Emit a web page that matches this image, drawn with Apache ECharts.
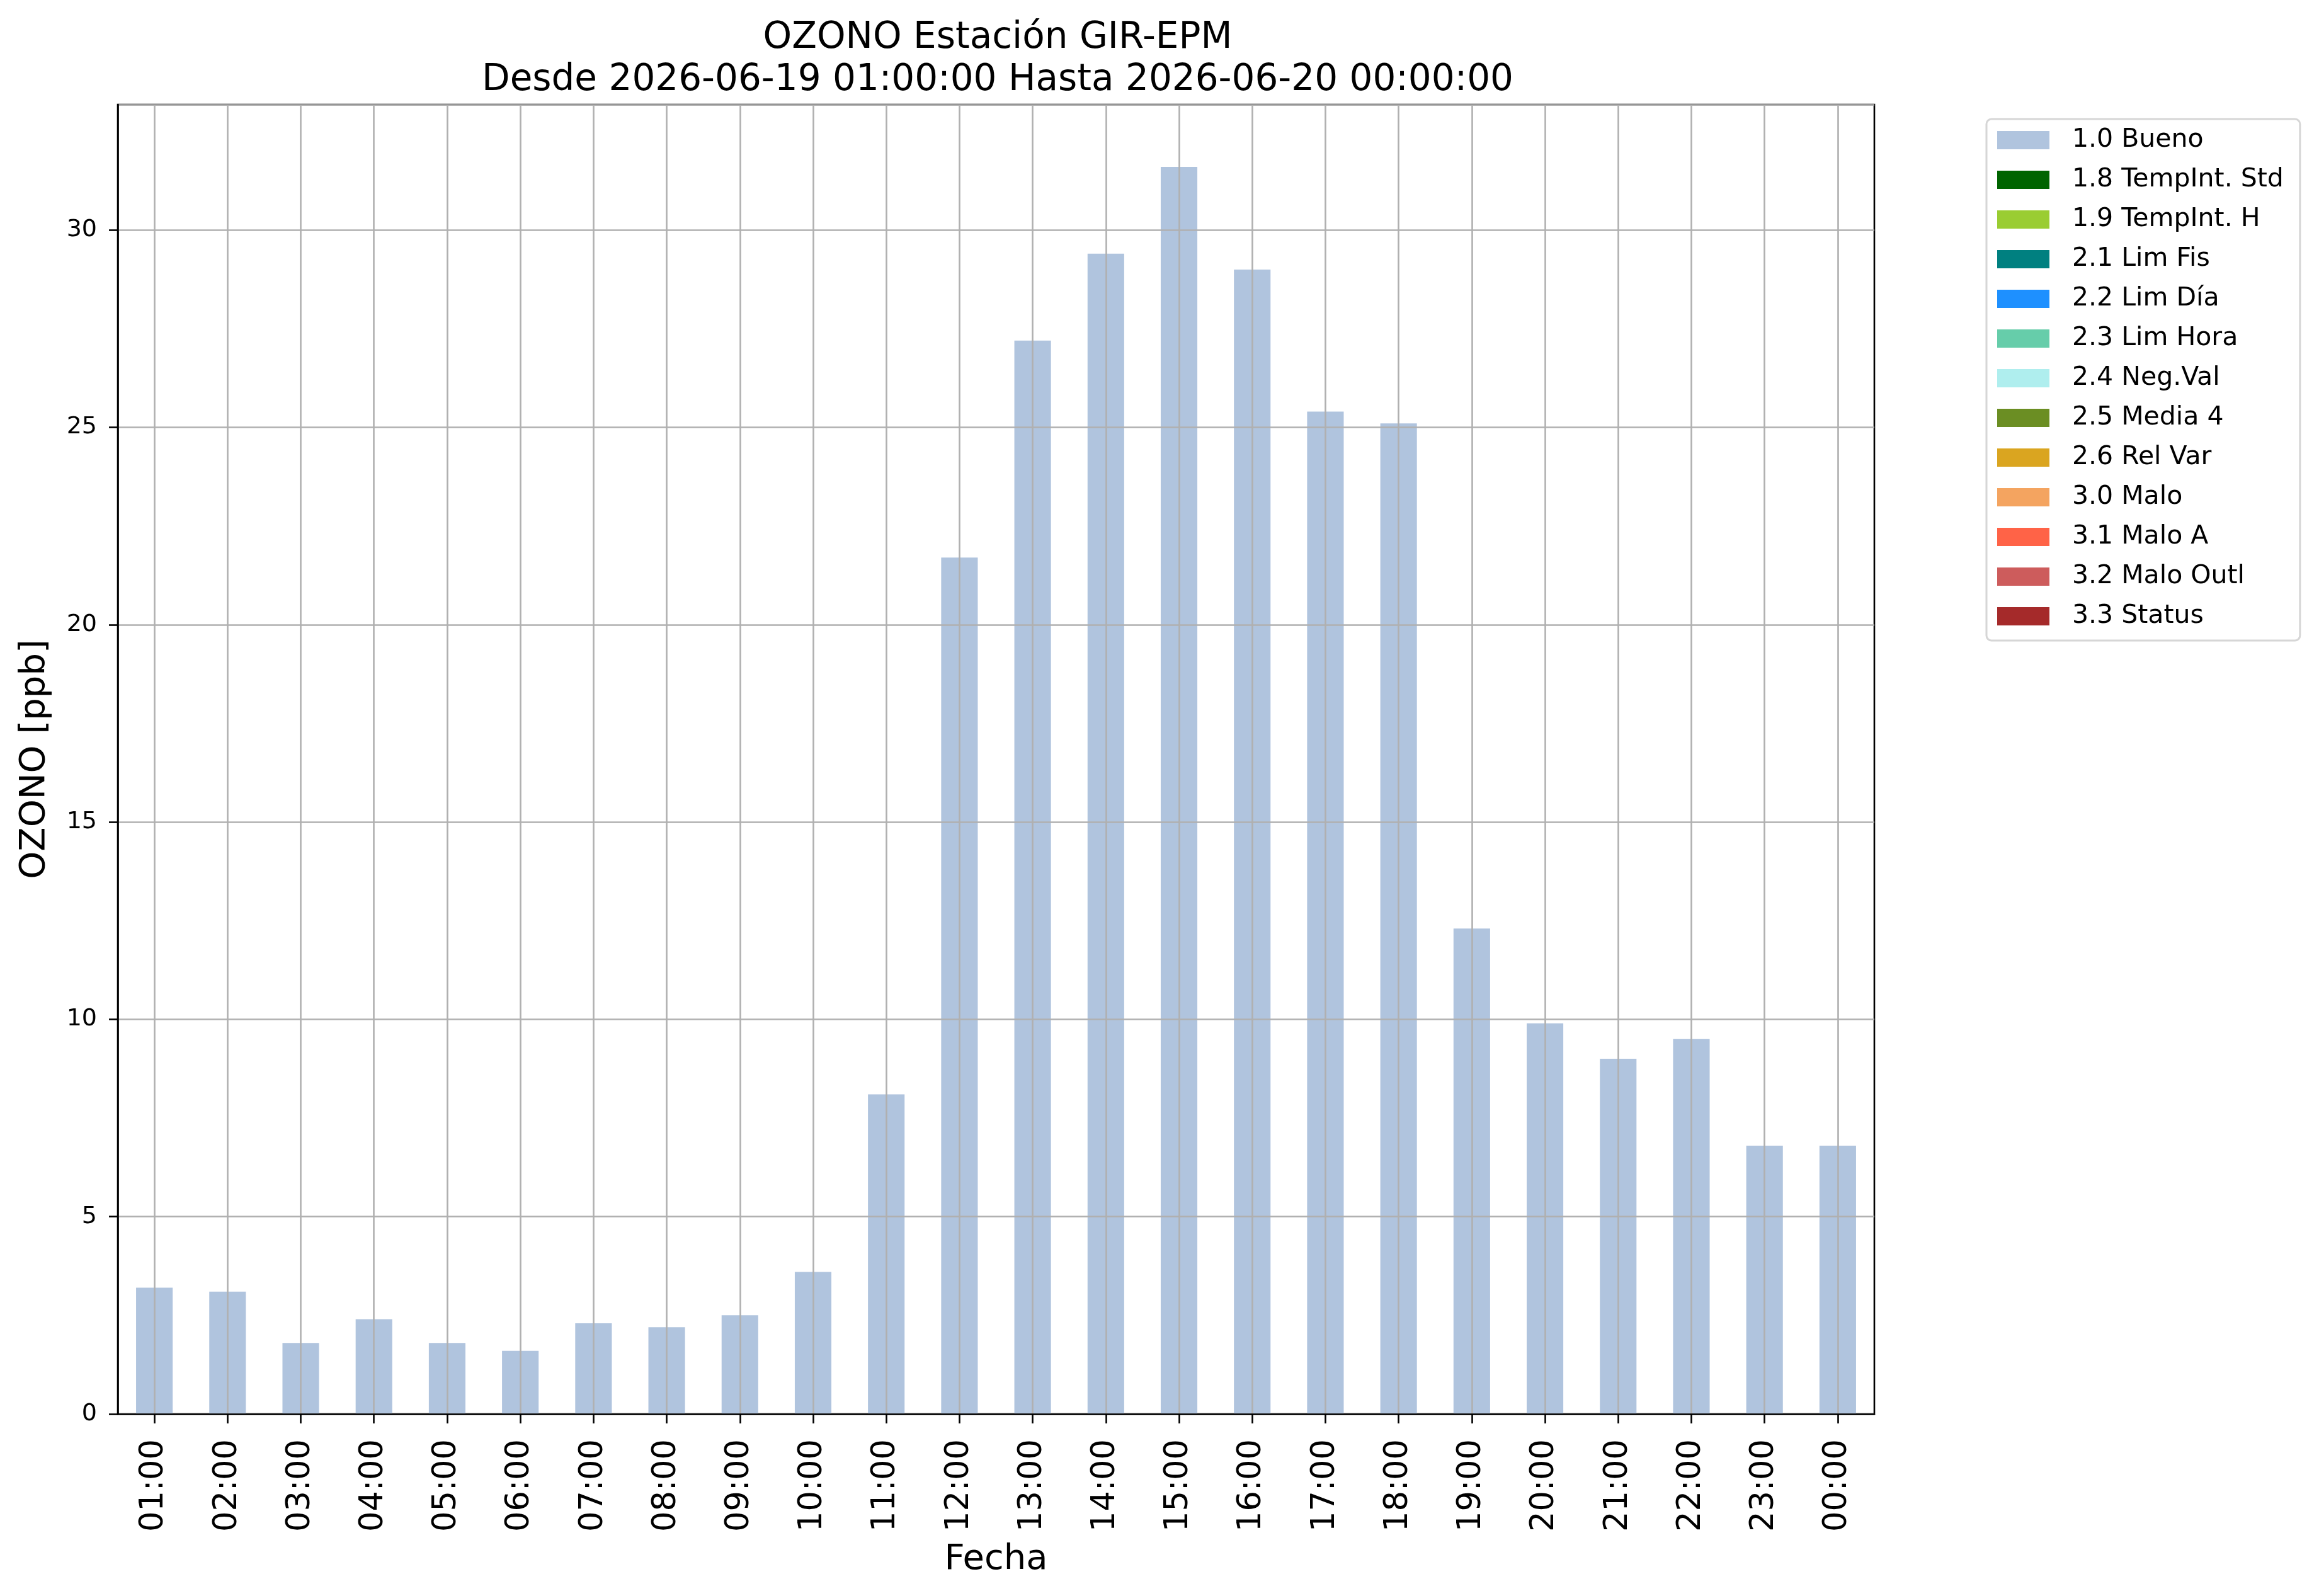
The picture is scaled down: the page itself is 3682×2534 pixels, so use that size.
<!DOCTYPE html>
<html>
<head>
<meta charset="utf-8">
<title>OZONO Estación GIR-EPM</title>
<script src="https://cdn.jsdelivr.net/npm/echarts@6/dist/echarts.min.js"></script>
<style>
  html, body { margin: 0; padding: 0; background: #fff; }
  #chart { width: 3682px; height: 2534px; }
</style>
</head>
<body>
<div id="chart"></div>
<script>
// horas del periodo
var horas = ['01:00', '02:00', '03:00', '04:00', '05:00', '06:00', '07:00', '08:00',
  '09:00', '10:00', '11:00', '12:00', '13:00', '14:00', '15:00', '16:00',
  '17:00', '18:00', '19:00', '20:00', '21:00', '22:00', '23:00', '00:00'];

// ozono [ppb], todos con bandera 1.0 Bueno
var ozono = [3.2, 3.1, 1.8, 2.4, 1.8, 1.6, 2.3, 2.2, 2.5, 3.6, 8.1, 21.7,
  27.2, 29.4, 31.6, 29.0, 25.4, 25.1, 12.3, 9.9, 9.0, 9.5, 6.8, 6.8];

// banderas de calidad (leyenda)
var banderas = ['1.0 Bueno', '1.8 TempInt. Std', '1.9 TempInt. H', '2.1 Lim Fis',
  '2.2 Lim Día', '2.3 Lim Hora', '2.4 Neg.Val', '2.5 Media 4', '2.6 Rel Var',
  '3.0 Malo', '3.1 Malo A', '3.2 Malo Outl', '3.3 Status'];
var coloresBandera = ['#B0C4DE', '#006400', '#9ACD32', '#008080', '#1E90FF', '#66CDAA',
  '#AFEEEE', '#6B8E23', '#DAA520', '#F4A460', '#FF6347', '#CD5C5C', '#A52A2A'];

var yTicks = [0, 5, 10, 15, 20, 25, 30];
var yMax = 33.18;

var fuente = 'DejaVu Sans';
var gris = '#b0b0b0';

var chart = echarts.init(document.getElementById('chart'), null, {
  renderer: 'canvas',
  devicePixelRatio: 1
});

var series = [];
for (var i = 0; i < banderas.length; i++) {
  series.push({
    name: banderas[i],
    type: 'bar',
    stack: 'flag',
    barWidth: '50%',
    z: 2,
    itemStyle: { color: coloresBandera[i] },
    data: i == 0 ? ozono : []
  });
}

chart.setOption({
  animation: false,
  title: {
    text: 'OZONO Estación GIR-EPM\nDesde 2026-06-19 01:00:00 Hasta 2026-06-20 00:00:00',
    left: 1579,
    top: 22,
    textAlign: 'center',
    textStyle: {
      fontFamily: fuente,
      fontSize: 58,
      fontWeight: 'normal',
      color: '#000',
      lineHeight: 67
    }
  },
  legend: {
    orient: 'vertical',
    left: 3154,
    top: 189,
    icon: 'rect',
    itemWidth: 83,
    itemHeight: 29,
    itemGap: 22,
    padding: [13, 26, 18, 17],
    borderColor: '#d6d6d6',
    borderWidth: 3,
    borderRadius: 8,
    backgroundColor: '#fff',
    selectedMode: false,
    data: banderas,
    textStyle: {
      fontFamily: fuente,
      fontSize: 41,
      color: '#000',
      padding: [0, 0, 0, 31]
    }
  },
  grid: {
    left: 187,
    top: 166,
    width: 2789,
    height: 2079,
    show: true,
    borderColor: '#000',
    borderWidth: 2.6,
    containLabel: false
  },
  xAxis: {
    type: 'category',
    data: horas,
    boundaryGap: true,
    z: 5,
    name: 'Fecha',
    nameLocation: 'middle',
    nameGap: 203,
    nameTextStyle: { fontFamily: fuente, fontSize: 56, color: '#000' },
    axisLine: { show: true, lineStyle: { color: '#000', width: 2.6 } },
    axisTick: { show: true, alignWithLabel: true, length: 15, lineStyle: { color: '#000', width: 2.6 } },
    axisLabel: {
      rotate: 90,
      margin: 40,
      interval: 0,
      padding: [0, 0, 0, 0],
      fontFamily: fuente,
      fontSize: 51,
      color: '#000'
    },
    splitLine: { show: true, alignWithLabel: true, lineStyle: { color: gris, width: 2.6 } }
  },
  yAxis: {
    type: 'value',
    min: 0,
    max: yMax,
    interval: 5,
    z: 5,
    name: 'OZONO [ppb]',
    nameLocation: 'middle',
    nameGap: 104,
    nameTextStyle: { fontFamily: fuente, fontSize: 56, color: '#000' },
    axisLine: { show: true, lineStyle: { color: '#000', width: 2.6 } },
    axisTick: { show: true, length: 14, lineStyle: { color: '#000', width: 2.6 } },
    axisLabel: {
      margin: 33,
      showMaxLabel: false,
      fontFamily: fuente,
      fontSize: 38,
      color: '#000',
      formatter: function (v) {
        return yTicks.indexOf(v) >= 0 ? String(v) : '';
      }
    },
    splitLine: { show: true, lineStyle: { color: gris, width: 2.6 } }
  },
  series: series
});
</script>
</body>
</html>
